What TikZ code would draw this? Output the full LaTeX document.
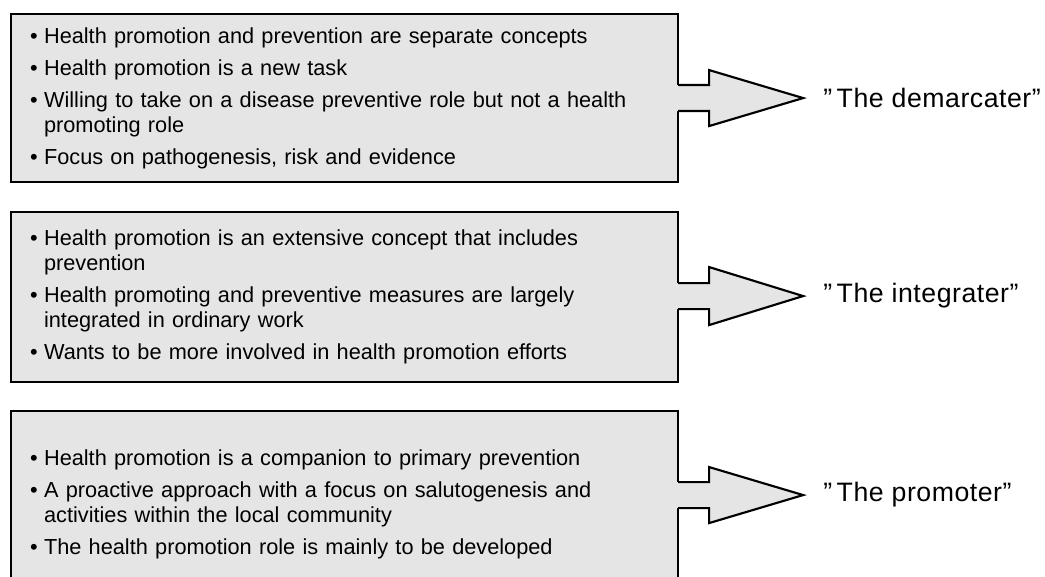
\documentclass[tikz,border=0pt]{standalone}
\usepackage{fontspec}
\setmainfont{Liberation Sans}
\newfontfamily\rolefont[LetterSpace=2]{Liberation Sans}
\usetikzlibrary{calc,positioning}

\definecolor{boxgray}{gray}{0.9}
\newcommand{\itm}{\makebox[10.5pt][l]{\textbullet}}
\newcommand{\cnt}{\hspace*{10.5pt}}

\begin{document}
\begin{tikzpicture}[x=0.75pt, y=-0.75pt]
    % Define styles
    \tikzset{
        rolebox/.style={
            draw,
            line width=1.6pt,
            fill=boxgray,
            anchor=north west,
            minimum width=500.25pt,
            text width=471.75pt,
            inner xsep=14.25pt,
            align=left,
            font=\fontsize{16.3pt}{18.75pt}\selectfont
        },
        arrowfill/.style={
            fill=boxgray
        },
        arrowline/.style={
            line width=1.6pt,
            line join=miter
        },
        rolelabel/.style={
            inner sep=0pt,
            anchor=west,
            font=\rolefont\fontsize{20pt}{24pt}\selectfont
        }
    }
    \useasboundingbox (0,0) rectangle (1045,577);

    % Boxes
    \node[rolebox, minimum height=126pt] (demarc) at (10,13) {%
        \itm Health promotion and prevention are separate concepts\\[5.25pt]
        \itm Health promotion is a new task\\[5.25pt]
        \itm Willing to take on a disease preventive role but not a health\\
        \cnt promoting role\\[5.25pt]
        \itm Focus on pathogenesis, risk and evidence};
    \node[rolebox, minimum height=127.5pt] (integ) at (10,211) {%
        \itm Health promotion is an extensive concept that includes\\
        \cnt prevention\\[5.25pt]
        \itm Health promoting and preventive measures are largely\\
        \cnt integrated in ordinary work\\[5.25pt]
        \itm Wants to be more involved in health promotion efforts};
    \node[rolebox, minimum height=139.5pt] (promo) at (10,410) {%
        \itm Health promotion is a companion to primary prevention\\[5.25pt]
        \itm A proactive approach with a focus on salutogenesis and\\
        \cnt activities within the local community\\[5.25pt]
        \itm The health promotion role is mainly to be developed};

    % Arrow roots
    \coordinate (a1) at (demarc.east);
    \coordinate (a2) at ($(integ.east)+(0,-1)$);
    \coordinate (a3) at ($(promo.east)+(0,-9)$);

    % Arrows
    \fill[arrowfill] (a1) ++(-2,-13) -- ++(32,0) -- ++(0,-15) -- ++(94,28) -- ++(-94,28) -- ++(0,-15) -- ++(-32,0) -- cycle;
    \draw[arrowline] (a1) ++(-1,-13) -- ++(31,0) -- ++(0,-15) -- ++(94,28) coordinate (t1) -- ++(-94,28) -- ++(0,-15) -- ++(-31,0);
    \fill[arrowfill] (a2) ++(-2,-13) -- ++(32,0) -- ++(0,-16) -- ++(94,29) -- ++(-94,29) -- ++(0,-16) -- ++(-32,0) -- cycle;
    \draw[arrowline] (a2) ++(-1,-13) -- ++(31,0) -- ++(0,-16) -- ++(94,29) coordinate (t2) -- ++(-94,29) -- ++(0,-16) -- ++(-31,0);
    \fill[arrowfill] (a3) ++(-2,-13) -- ++(32,0) -- ++(0,-15) -- ++(94,28) -- ++(-94,28) -- ++(0,-15) -- ++(-32,0) -- cycle;
    \draw[arrowline] (a3) ++(-1,-13) -- ++(31,0) -- ++(0,-15) -- ++(94,28) coordinate (t3) -- ++(-94,28) -- ++(0,-15) -- ++(-31,0);

    % Labels
    \node[rolelabel, right=15pt of t1] (demarcl) {”\,The demarcater”};
    \node[rolelabel, right=15pt of t2] (integl) {”\,The integrater”};
    \node[rolelabel, right=15pt of t3] (promol) {”\,The promoter”};

\end{tikzpicture}
\end{document}
